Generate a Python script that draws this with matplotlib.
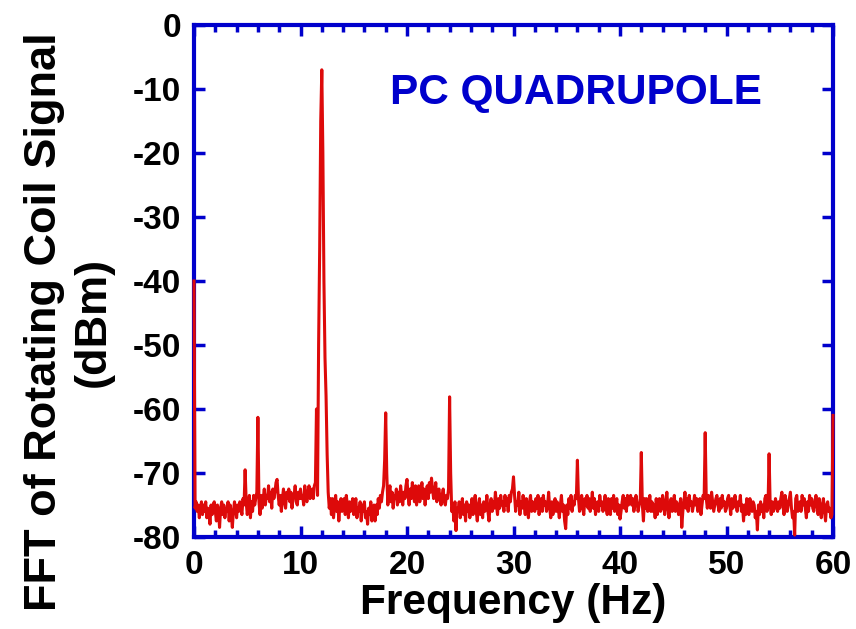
import numpy as np
import matplotlib
matplotlib.use("Agg")
import matplotlib.pyplot as plt
from matplotlib.ticker import MultipleLocator

plt.rcParams["axes.unicode_minus"] = False

# FFT magnitude (dBm), sampled every 0.1 Hz from 0 to 60 Hz; one row per Hz
rows = [
    [-40, -75.5, -74.5, -76, -75, -77, -75.5, -74.5, -76.5, -75],
    [-76, -74.5, -77, -75.5, -76, -78, -75, -76.5, -75, -74.5],
    [-76, -77.5, -75, -76, -78.5, -75.5, -74.5, -76.5, -75, -77],
    [-75.5, -76, -74.5, -77.5, -75, -76.5, -78.5, -76, -74.5, -75.5],
    [-77, -75, -76, -74.5, -75.5, -76.5, -74, -75, -69.5, -74.5],
    [-76.5, -75, -73.5, -77, -74.5, -76, -73.5, -75, -74, -73],
    [-61.3, -74.5, -76.5, -73.5, -75.5, -74, -72.5, -75, -73.5, -74],
    [-72, -74.5, -73, -75.5, -72.5, -74, -73, -71.5, -71, -73.5],
    [-75, -73.5, -76, -74, -72.5, -74.5, -75.5, -73, -74, -72.5],
    [-74.5, -73, -75.5, -74, -73.5, -72, -74.5, -75, -73, -74],
    [-72.5, -74, -73.5, -75, -72, -73.5, -74.5, -73, -72, -74],
    [-73.5, -72.5, -74, -72, -71.5, -60, -73.5, -50, -35, -15],
    [-7, -20, -40, -52, -58, -67, -73, -75.5, -74, -76.5],
    [-74, -77, -75, -73.5, -76, -74.5, -77.5, -75, -74, -76],
    [-75.5, -74, -76.5, -73.5, -75, -77, -74.5, -76, -75, -74],
    [-76.5, -75, -74, -77, -75.5, -76, -74.5, -77.5, -75, -76],
    [-74.5, -77, -76, -78, -75.5, -76.5, -74.5, -77.5, -76, -75],
    [-77.5, -75, -76.5, -74, -75.5, -73.5, -74.5, -73, -72, -68],
    [-60.6, -70, -75, -73, -72, -74.5, -73, -75.5, -73.5, -74],
    [-72.5, -75, -73, -74.5, -72, -73.5, -75, -73, -74, -72],
    [-71, -73.5, -75, -72.5, -74, -71.5, -73, -74.5, -72, -75],
    [-73.5, -72, -74.5, -73, -71.5, -74, -72.5, -75, -73, -72],
    [-74, -71.5, -73, -70.8, -72.5, -74, -73, -71.5, -74.5, -73],
    [-72.5, -74, -75, -73.5, -72.5, -74.5, -75, -73.5, -74, -72.5],
    [-58.1, -70, -76, -75, -77.5, -74.5, -79, -75.5, -76, -74.5],
    [-77, -75.5, -74, -76.5, -75, -77.5, -74.5, -76, -75, -77],
    [-75.5, -74, -76.5, -75, -73.5, -76, -77.5, -75, -74, -76.5],
    [-75, -77, -74.5, -76, -75.5, -73.5, -76, -77.5, -75, -74],
    [-76, -74.5, -75.5, -73, -75, -76.5, -74, -75.5, -73.5, -75],
    [-74.5, -76, -73.5, -75, -74, -76, -73.5, -74.5, -73, -72.5],
    [-70.6, -73.5, -76, -74.5, -75, -73, -76.5, -74.5, -75.5, -73.5],
    [-75, -76.5, -74, -75.5, -77, -74.5, -73.5, -76, -74.5, -75],
    [-76, -74, -75.5, -73.5, -76.5, -75, -74, -76, -73.5, -75],
    [-74.5, -76, -75, -73, -75.5, -77, -74.5, -76.5, -75, -74],
    [-76, -74.5, -75.5, -77, -75, -73.5, -76, -75, -77.5, -78.7],
    [-75, -76.5, -74, -75.5, -73.5, -76, -74.5, -75, -73.5, -74],
    [-68, -74, -76, -75, -73.5, -75.5, -76.5, -74, -75, -73.5],
    [-75.5, -74, -76, -75, -73, -75.5, -74, -76.5, -75, -74.5],
    [-76, -73.5, -75, -74.5, -76, -75, -73.5, -75.5, -76.5, -74],
    [-75, -76.5, -74, -75.5, -73.5, -76, -75, -74, -76.5, -75],
    [-77.2, -76, -74.5, -73.5, -75.5, -74, -76, -73.5, -75, -74],
    [-73.5, -75, -74, -76, -75, -73.5, -74.5, -76, -75, -74.5],
    [-66.8, -75, -77.5, -74, -75.5, -74, -76, -75, -73.5, -76],
    [-74.5, -76, -75, -77, -74, -76.5, -75, -74, -76, -75.5],
    [-73.5, -75, -76.5, -74.5, -73, -75.5, -77, -75, -74, -76],
    [-75, -73.5, -76, -74.5, -75, -76.5, -75, -74, -78.5, -76],
    [-74.5, -73, -75.5, -74, -76, -73.5, -75, -74.5, -76, -75],
    [-73.5, -75, -74, -76, -75.5, -74, -76.5, -75, -73.5, -74],
    [-63.7, -74, -75.5, -73.5, -74, -75.5, -73, -74.5, -76, -75],
    [-74, -73.5, -75, -76, -74, -75.5, -73.5, -75, -74.5, -76],
    [-75.5, -74, -73.5, -75, -76.5, -74, -75.5, -74.5, -73.5, -75],
    [-76, -74.5, -75, -73.5, -76, -75, -77.5, -75, -76.5, -74],
    [-75, -76.5, -74, -75.5, -76, -74.5, -75, -77, -76, -78.9],
    [-75, -76.5, -74.5, -76, -75, -77, -74, -73.5, -76, -75],
    [-67, -75, -76.5, -74.5, -76, -75.5, -74, -75, -76, -74.5],
    [-75.5, -74, -73, -75, -76.5, -73.5, -74.5, -76, -75, -74],
    [-73, -75.5, -77, -76, -79.7, -74, -73.5, -76, -75, -74.5],
    [-76, -73.5, -75, -74, -75.5, -77, -74.5, -76, -73.5, -75],
    [-74, -75.5, -76, -74.5, -73.5, -75, -76.5, -74, -75.5, -77],
    [-75, -74, -76, -77.5, -75, -74.5, -76, -75.5, -77, -76.5],
    [-61],
]
dbm = np.array([v for r in rows for v in r], dtype=float)
freq = np.round(np.arange(len(dbm)) * 0.1, 1)

x_ticks = [0, 10, 20, 30, 40, 50, 60]
y_ticks = [0, -10, -20, -30, -40, -50, -60, -70, -80]

BLUE = "#0000CC"
RED = "#DD0A0A"
FONT = "Liberation Sans"

fig = plt.figure(figsize=(8.56, 6.29), dpi=100)
ax = fig.add_axes([194/856, 1-537/629, 639/856, 512/629])

ax.plot(freq, dbm, color=RED, lw=2.2, solid_joinstyle="round", zorder=3, clip_on=False)

ax.set_xlim(0, 60)
ax.set_ylim(-80, 0)
ax.set_xticks(x_ticks)
ax.set_yticks(y_ticks)
ax.xaxis.set_minor_locator(MultipleLocator(2))

for s in ax.spines.values():
    s.set_color(BLUE)
    s.set_linewidth(3)
    s.set_zorder(2.5)

ax.tick_params(which="both", direction="in", top=True, right=True, color=BLUE)
ax.tick_params(which="major", length=8, width=2.5, pad=9)
ax.tick_params(which="minor", length=5, width=2.5)

for lab in ax.get_xticklabels() + ax.get_yticklabels():
    lab.set_fontfamily(FONT)
    lab.set_fontweight("bold")
    lab.set_fontsize(24)

ax.set_xlabel("Frequency (Hz)", fontfamily=FONT, fontweight="bold", fontsize=30.5, labelpad=2)
fig.text(69/856, 1-322/629, "FFT of Rotating Coil Signal\n(dBm)", rotation=90,
         ha="center", va="center", multialignment="center", fontfamily=FONT,
         fontweight="bold", fontsize=32.5, linespacing=1.25)

ax.text(0.889, 0.867, "PC QUADRUPOLE", transform=ax.transAxes, ha="right", va="center",
        color=BLUE, fontfamily=FONT, fontweight="bold", fontsize=30.5)

fig.savefig("out.png", dpi=100)
